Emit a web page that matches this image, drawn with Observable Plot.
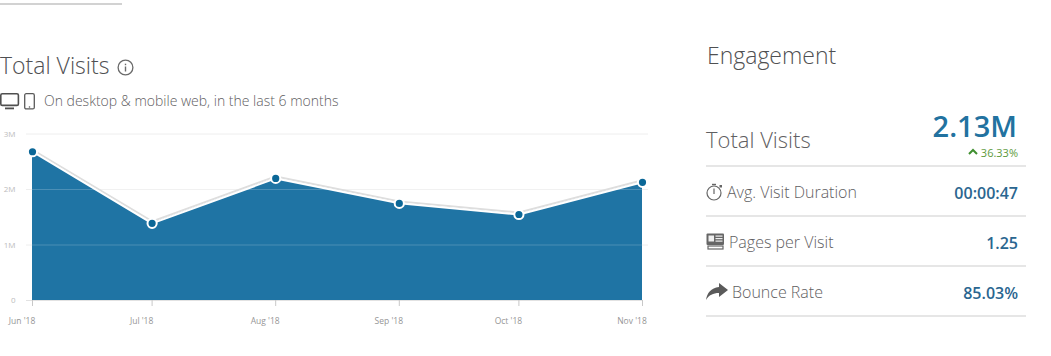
<!DOCTYPE html>
<html><head><meta charset="utf-8">
<script src="https://cdn.jsdelivr.net/npm/d3@7"></script>
<script src="https://cdn.jsdelivr.net/npm/@observablehq/plot@0.6"></script>
<style>
html,body{margin:0;padding:0;background:#fff;overflow:hidden}
body{width:1051px;height:356px;position:relative;font-family:"Open Sans",sans-serif;color:#5f6062}
.t{position:absolute;white-space:nowrap;line-height:1}
.r{position:absolute;left:706px;width:320px;height:2px;background:#e6e6e6}
.i{position:absolute;overflow:visible}
#chart{position:absolute;left:0;top:120px}
#chart svg{display:block;overflow:visible}
</style></head><body>
<div id="chart"></div>
<script>
const months=["2018-06-01","2018-07-01","2018-08-01","2018-09-01","2018-10-01","2018-11-01"];
const monthLabels=["Jun '18","Jul '18","Aug '18","Sep '18","Oct '18","Nov '18"];
const visits=[2680000,1390000,2200000,1750000,1550000,2130000];
const yTicks=[0,1000000,2000000,3000000];
const yLabels=["0","1M","2M","3M"];
const rowLabels=["Avg. Visit Duration","Pages per Visit","Bounce Rate"];
const rowValues=["00:00:47","1.25","85.03%"];

const dates=months.map(d=>new Date(d+"T00:00:00Z"));
const rows=dates.map((d,i)=>({date:d,visits:visits[i]}));
const fmtX=d=>monthLabels[dates.findIndex(m=>+m===+d)];
const fmtY=v=>yLabels[yTicks.indexOf(v)];
const blue="#1f74a4",dot="#0b6797";

const chart=Plot.plot({
  width:660,height:220,marginLeft:32,marginRight:18,marginTop:13.5,marginBottom:40,
  style:{fontFamily:"'Open Sans',sans-serif",background:"transparent"},
  x:{type:"utc",domain:[dates[0],dates[5]]},
  y:{domain:[0,3000000]},
  marks:[
    Plot.ruleY(yTicks.slice(1),{stroke:"#eeeeee",strokeWidth:1,insetLeft:-6,insetRight:-6}),
    Plot.ruleY([0],{stroke:"#e2e2e2",strokeWidth:1,insetLeft:-6}),
    Plot.areaY(rows,{x:"date",y:"visits",fill:blue}),
    Plot.ruleY(yTicks.slice(1,3),{stroke:"#fff",strokeOpacity:.2,strokeWidth:1}),
    Plot.lineY(rows,{x:"date",y:"visits",stroke:"#dedede",strokeWidth:2,dy:-2,curve:"linear"}),
    Plot.lineY(rows,{x:"date",y:"visits",stroke:"#fff",strokeWidth:2,curve:"linear"}),
    Plot.dot(rows,{x:"date",y:"visits",r:4.6,fill:dot,stroke:"#fff",strokeWidth:2}),
    Plot.axisX({ticks:dates,tickSize:6,tickFormat:()=>"",stroke:"#c8c8c8",label:null}),
    Plot.axisX({ticks:dates,tickSize:0,tickPadding:17,tickFormat:fmtX,dx:-10.5,fontSize:8.5,fill:"#969696",label:null}),
    Plot.axisY({ticks:yTicks,tickSize:0,tickPadding:0,tickFormat:fmtY,dx:-17,fontSize:8,fill:"#bcbcbc",label:null})
  ]
});
document.getElementById("chart").append(chart);

function text(s,o){const e=document.createElement("div");e.className="t";e.textContent=s;
  const st=e.style;
  if(o.right!=null){st.right=(1051-o.right)+"px"}else{st.left=o.left+"px"}
  st.top=(o.cy-o.size/2)+"px";st.fontSize=o.size+"px";st.fontWeight=o.w||300;st.color=o.c||"#5f6062";
  document.body.append(e);return e}
function rule(y,l,w,c){const e=document.createElement("div");e.className="r";e.style.top=y+"px";
  if(l!=null){e.style.left=l+"px";e.style.width=w+"px";e.style.background=c}document.body.append(e)}
function icon(x,y,w,h,vb,body){const n=document.createElement("div");
  n.innerHTML=`<svg class="i" style="left:${x}px;top:${y}px" width="${w}" height="${h}" viewBox="${vb}">${body}</svg>`;
  document.body.append(n)}

rule(3,0,122,"#d2d2d2");
text("Total Visits",{left:0,cy:65.5,size:23,w:300,c:"#4f5052"});
text("On desktop & mobile web, in the last 6 months",{left:44,cy:101,size:14});
text("Engagement",{left:707,cy:55.5,size:23,w:300,c:"#4f5052"});
text("Total Visits",{left:706,cy:138.5,size:22});
text("2.13M",{right:1017,cy:125.5,size:29,w:600,c:"#2272a0"});
text("36.33%",{right:1018,cy:152,size:11,w:400,c:"#5d9a3c"});
[165,215,265,315].forEach(y=>rule(y));
const ys=[192,242,292],lx=[727,729,732];
rowLabels.forEach((l,i)=>{text(l,{left:lx[i],cy:ys[i],size:16});
  text(rowValues[i],{right:1018,cy:ys[i]+1,size:16,w:600,c:"#2a6690"})});

// info icon
icon(117,59,17,17,"0 0 17 17",'<circle cx="8.5" cy="8.5" r="7.4" fill="none" stroke="#6a6a6a" stroke-width="1.3"/><rect x="7.8" y="7.5" width="1.4" height="5" fill="#6a6a6a"/><rect x="7.8" y="4.7" width="1.4" height="1.5" fill="#6a6a6a"/>');
// desktop icon
icon(0,93,20,17,"0 0 20 17",'<rect x="0.8" y="0.8" width="17.6" height="11.6" rx="1.5" fill="none" stroke="#4f4f4f" stroke-width="1.6"/><rect x="5" y="14.5" width="9" height="1.8" fill="#4f4f4f"/>');
// mobile icon
icon(24,93,12,17,"0 0 12 17",'<rect x="0.7" y="0.7" width="9.6" height="15.2" rx="1.5" fill="none" stroke="#5a5a5a" stroke-width="1.3"/><circle cx="5.5" cy="14" r="0.8" fill="#5a5a5a"/>');
// stopwatch
icon(706,183,18,18,"0 0 18 18",'<circle cx="8" cy="10" r="7" fill="none" stroke="#666" stroke-width="1.2"/><rect x="7.4" y="5.5" width="1.2" height="5.5" fill="#666"/><rect x="6" y="0.8" width="4" height="1.4" fill="#666"/><rect x="13.5" y="2" width="2.5" height="2.5" fill="#666"/>');
// newspaper
icon(706,233,19,17,"0 0 19 17",'<rect x="0.5" y="0.5" width="17.5" height="11.5" rx="1" fill="#666"/><rect x="2.5" y="2.5" width="5.5" height="6" fill="#eee"/><rect x="9.5" y="2.5" width="7" height="1.2" fill="#eee"/><rect x="9.5" y="5" width="7" height="1.2" fill="#eee"/><rect x="9.5" y="7.5" width="7" height="1.2" fill="#eee"/><rect x="2" y="13" width="15" height="3" fill="none" stroke="#666" stroke-width="1.2"/>');
// share arrow
icon(706,283,22,17,"0 0 22 17",'<path d="M13 0 L22 7 L13 14 L13 10 C7 10 3 12 0 17 C1 10 5 5 13 4 Z" fill="#5a5a5a"/>');
// up caret
icon(968,148,10,7,"0 0 10 7",'<path d="M1 6 L5 2 L9 6" fill="none" stroke="#3f8f2f" stroke-width="2"/>');
</script>
</body></html>
